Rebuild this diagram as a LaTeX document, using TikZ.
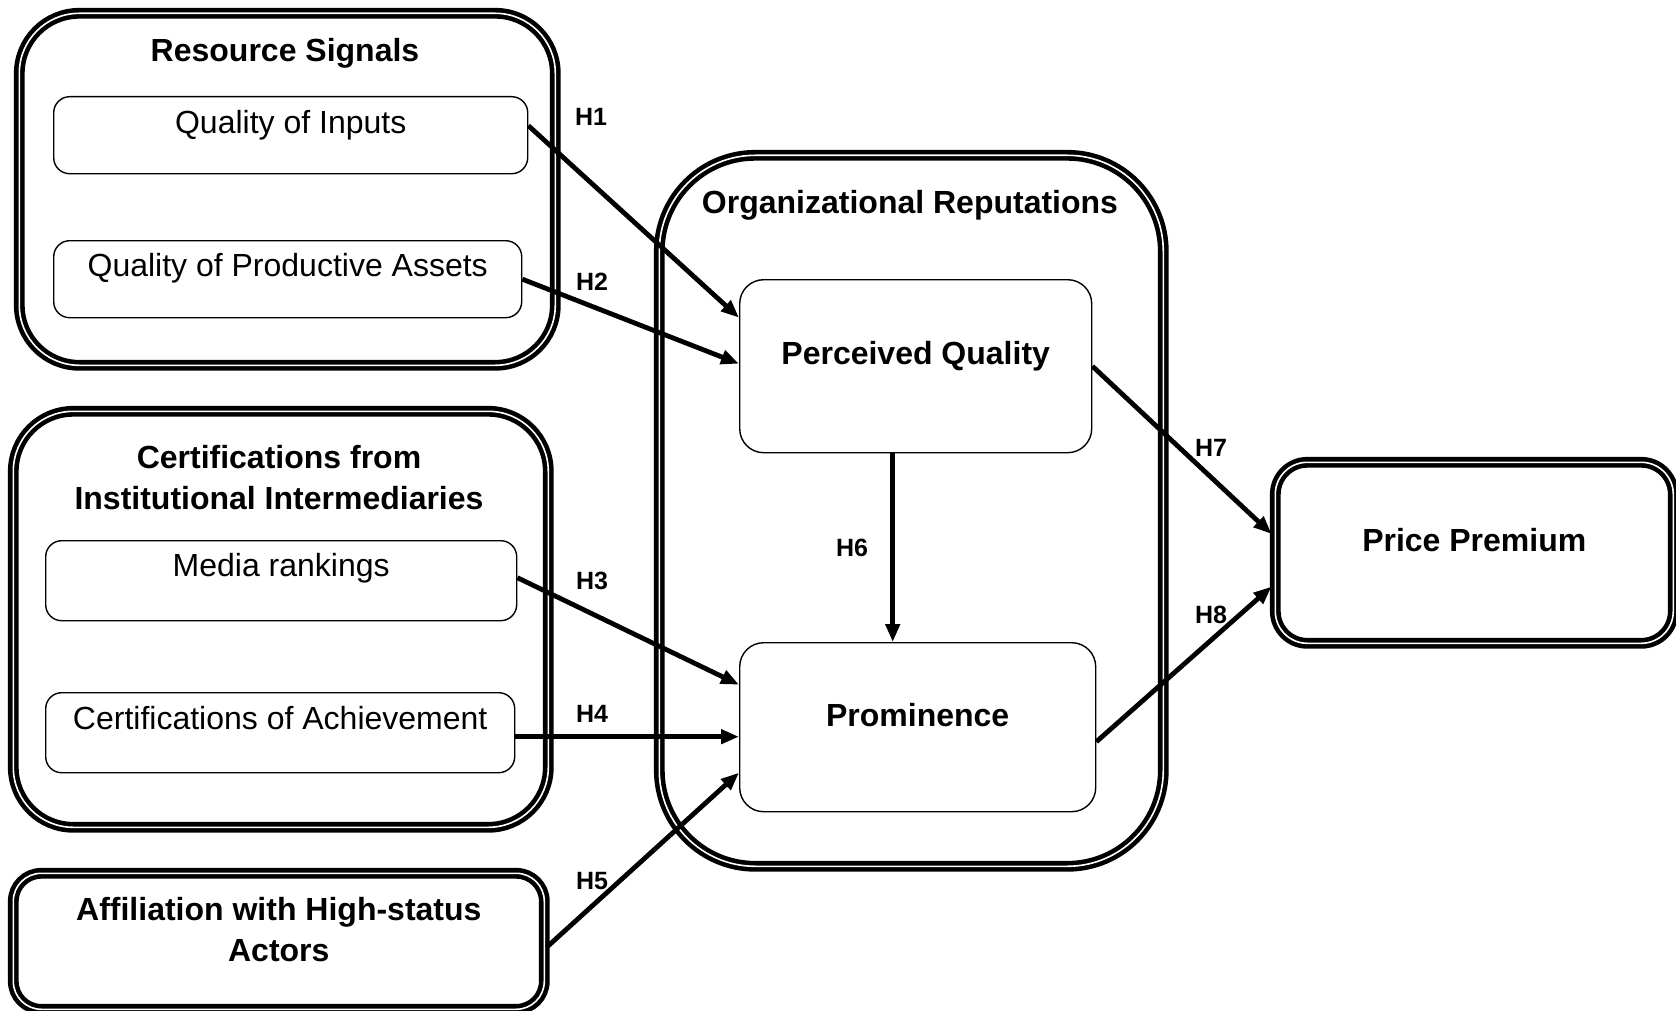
\documentclass[tikz,border=0pt]{standalone}
\usepackage{fontspec}
\setmainfont{Liberation Sans}
\usepackage{tikz}
\usetikzlibrary{arrows.meta,shapes,positioning,calc}
\tikzset{
	outer box/.style={rectangle,draw=black,double,line width=2.3pt,double distance=0.8pt,inner sep=0pt,anchor=north west},
	inner box/.style={rectangle,draw=black,line width=0.7pt,rounded corners=8pt,inner sep=0pt,anchor=north west,font=\fontsize{16}{19}\selectfont},
	hyp/.style={-{Triangle[length=9pt,width=7pt]},line width=2.4pt}}

\begin{document}
\begin{tikzpicture}[x=0.5pt,y=-0.5pt]
		
		\tikzstyle{every node}=[font=\fontsize{16}{20.5}\selectfont]
		\tikzstyle{title}=[font=\fontsize{16}{20.5}\selectfont\bfseries,align=center]
		\tikzstyle{hlabel}=[font=\fontsize{12.5}{14}\selectfont\bfseries]
		
		\useasboundingbox (0,0) rectangle (1676,1011);
		
		% left hand groups
		\node[outer box, rounded corners=30pt, minimum width=268pt, minimum height=176pt] (rs) at (17,11) {};
		\node[title] (rstitle) at (285,53) {Resource Signals};
		\node[inner box, minimum width=237pt, text height=18.25pt, text depth=20.25pt] (qi) at (53,96) {Quality of Inputs};
		\node[inner box, minimum width=234pt, text height=17.75pt, text depth=20.75pt] (qpa) at (53,240) {Quality of Productive Assets};
		
		\node[outer box, rounded corners=30pt, minimum width=267.5pt, minimum height=208pt] (cert) at (11,409) {};
		\node[title] (certtitle) at (279,478) {Certifications from\\Institutional Intermediaries};
		\node[inner box, minimum width=235.5pt, text height=17.75pt, text depth=22.25pt] (mr) at (45,540) {Media rankings};
		\node[inner box, minimum width=234.5pt, text height=18.25pt, text depth=21.75pt] (ca) at (45,692) {Certifications of Achievement};
		
		\node[outer box, rounded corners=14pt, minimum width=265.5pt, text height=23.75pt, text depth=44.25pt, font=\fontsize{16}{20.5}\selectfont\bfseries] (aff) at (11,871) {\begin{tabular}[t]{@{}c@{}}Affiliation with High-status\\Actors\end{tabular}};
		
		% reputations
		\node[outer box, rounded corners=48pt, minimum width=252pt, minimum height=355.5pt] (org) at (657,153) {};
		\node[title] (orgtitle) at (910,205) {Organizational Reputations};
		\node[inner box, rounded corners=12pt, minimum width=176pt, text height=42.25pt, text depth=44.25pt, font=\fontsize{16}{19}\selectfont\bfseries] (pq) at (739,279) {Perceived Quality};
		\node[inner box, rounded corners=12pt, minimum width=178pt, text height=41.75pt, text depth=42.75pt, font=\fontsize{16}{19}\selectfont\bfseries] (pr) at (739,642) {Prominence};
		
		\node[outer box, rounded corners=16pt, minimum width=199pt, text height=44.75pt, text depth=45.75pt, font=\fontsize{16}{19}\selectfont\bfseries] (pp) at (1273,460) {Price Premium};
		
		\path
		([yshift=4.75pt]qi.east) edge [hyp] ([yshift=24.25pt]pq.west)
		
		(qpa.east) edge [hyp] ([yshift=1.25pt]pq.west)
		
		([yshift=1.5pt]mr.east) edge [hyp] ([yshift=21.25pt]pr.west)
		
		([yshift=-3pt]aff.east) edge [hyp] ([yshift=-22.75pt]pr.west)
		
		(pq.east) edge [hyp, shorten >=1pt] ([yshift=8.75pt]pp.west)
		
		([yshift=-7.25pt]pr.east) edge [hyp, shorten >=1pt] ([yshift=-16.25pt]pp.west);
		
		\draw[hyp] ([yshift=-2pt]ca.east) coordinate (h4) -- (h4 -| pr.west);
		\draw[hyp] ([xshift=-11.5pt]pq.south) coordinate (h6) -- (h6 |- pr.north);
		
		\node[hlabel] (l1) at (591,117) {H1};
		\node[hlabel] (l2) at (592,282) {H2};
		\node[hlabel] (l3) at (592,581) {H3};
		\node[hlabel] (l4) at (592,714) {H4};
		\node[hlabel] (l5) at (592,881) {H5};
		\node[hlabel] (l6) at (852,548) {H6};
		\node[hlabel] (l7) at (1211,448) {H7};
		\node[hlabel] (l8) at (1211,615) {H8};
		
	\end{tikzpicture}
\end{document}
